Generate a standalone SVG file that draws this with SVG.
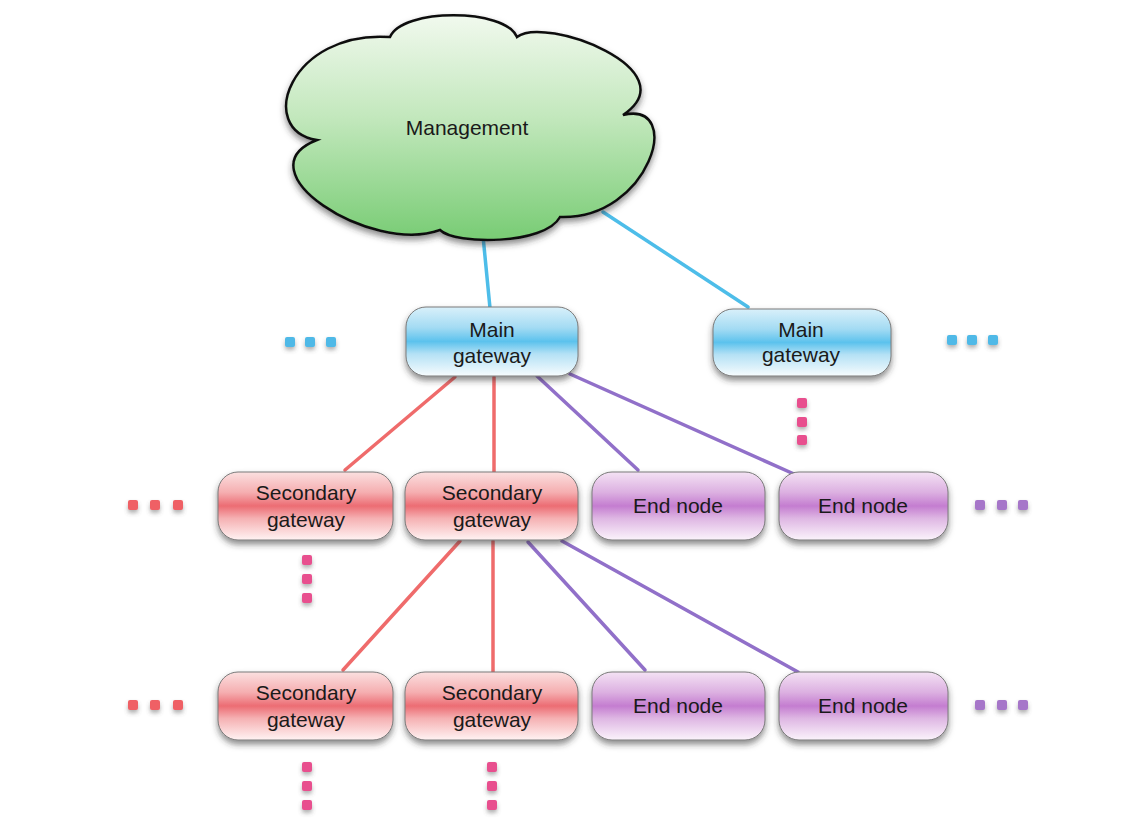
<svg xmlns="http://www.w3.org/2000/svg" width="1143" height="825" viewBox="0 0 1143 825">
<defs>
  <linearGradient id="gCloud" x1="0" y1="0" x2="0" y2="1">
    <stop offset="0" stop-color="#f1f9ee"/>
    <stop offset="0.45" stop-color="#c3e8bd"/>
    <stop offset="1" stop-color="#78cc74"/>
  </linearGradient>
  <linearGradient id="gBlue" x1="0" y1="0" x2="0" y2="1">
    <stop offset="0" stop-color="#d9f0fa"/>
    <stop offset="0.3" stop-color="#a3dbf3"/>
    <stop offset="0.5" stop-color="#5cc2ed"/>
    <stop offset="0.68" stop-color="#b4e1f5"/>
    <stop offset="1" stop-color="#f7fcfe"/>
  </linearGradient>
  <linearGradient id="gRed" x1="0" y1="0" x2="0" y2="1">
    <stop offset="0" stop-color="#fbe0e0"/>
    <stop offset="0.3" stop-color="#f5aeb0"/>
    <stop offset="0.5" stop-color="#ec6c73"/>
    <stop offset="0.68" stop-color="#f5b0b2"/>
    <stop offset="1" stop-color="#fff3f3"/>
  </linearGradient>
  <linearGradient id="gPurple" x1="0" y1="0" x2="0" y2="1">
    <stop offset="0" stop-color="#f4e2f4"/>
    <stop offset="0.3" stop-color="#dcb0e1"/>
    <stop offset="0.5" stop-color="#c47dd0"/>
    <stop offset="0.68" stop-color="#deb6e3"/>
    <stop offset="1" stop-color="#fbf3fb"/>
  </linearGradient>
  <filter id="shadow" x="-20%" y="-20%" width="140%" height="160%">
    <feDropShadow dx="0" dy="4" stdDeviation="3" flood-color="#333" flood-opacity="0.55"/>
  </filter>
  <filter id="dotShadow" x="-50%" y="-50%" width="200%" height="250%">
    <feDropShadow dx="0" dy="3" stdDeviation="2" flood-color="#555" flood-opacity="0.45"/>
  </filter>
</defs>
<style>
  .lbl { font-family: "Liberation Sans", Arial, Helvetica, sans-serif; font-size: 21px; fill: #1a1a1a; text-anchor: middle; }
  .node { stroke: #7a7a7a; stroke-width: 1; filter: url(#shadow); }
  .blueN { fill: url(#gBlue); }
  .redN { fill: url(#gRed); }
  .purN { fill: url(#gPurple); }
  .cb { stroke: #4dbde9; stroke-width: 3.5; fill: none; stroke-linecap: round; }
  .cr { stroke: #ef6b6b; stroke-width: 3.5; fill: none; stroke-linecap: round; }
  .cp { stroke: #9170c9; stroke-width: 3.5; fill: none; stroke-linecap: round; }
  .dot { filter: url(#dotShadow); }
  .dB { fill: #4fb9e7; }
  .dR { fill: #ef6165; }
  .dP { fill: #a676c9; }
  .dV { fill: #e8508e; }
</style>

<g id="connectors">
  <line class="cb" x1="483" y1="236" x2="490" y2="308"/>
  <line class="cb" x1="603" y1="212" x2="748" y2="307"/>
  <line class="cr" x1="455" y1="377" x2="345" y2="470"/>
  <line class="cr" x1="494" y1="377" x2="494" y2="472"/>
  <line class="cp" x1="537" y1="376" x2="638" y2="470"/>
  <line class="cp" x1="570" y1="374" x2="794" y2="474"/>
  <line class="cr" x1="460" y1="541" x2="343" y2="670"/>
  <line class="cr" x1="493" y1="541" x2="493" y2="672"/>
  <line class="cp" x1="528" y1="542" x2="645" y2="670"/>
  <line class="cp" x1="562" y1="541" x2="798" y2="672"/>
</g>

<g id="management">
  <path d="M317,140 C255,130 290,30 390,37 C402,8 505,8 517,37 C545,15 690,70 623,115 C685,100 650,220 560,217 C545,245 455,245 440,230 C370,255 240,170 317,140 Z" fill="url(#gCloud)" stroke="#111" stroke-width="2.5" filter="url(#shadow)"/>
  <text class="lbl" x="467" y="135">Management</text>
</g>

<g id="main-gateway-1">
  <rect class="node blueN" x="406" y="307" width="172" height="69" rx="20"/>
  <text class="lbl" x="492" y="337">Main</text>
  <text class="lbl" x="492" y="363">gateway</text>
</g>
<g id="main-gateway-2">
  <rect class="node blueN" x="713" y="309" width="178" height="67" rx="20"/>
  <text class="lbl" x="801" y="337">Main</text>
  <text class="lbl" x="801" y="362">gateway</text>
</g>

<g id="secondary-gateway-1">
  <rect class="node redN" x="218" y="472" width="175" height="68" rx="20"/>
  <text class="lbl" x="306" y="500">Secondary</text>
  <text class="lbl" x="306" y="527">gateway</text>
</g>
<g id="secondary-gateway-2">
  <rect class="node redN" x="405" y="472" width="173" height="68" rx="20"/>
  <text class="lbl" x="492" y="500">Secondary</text>
  <text class="lbl" x="492" y="527">gateway</text>
</g>
<g id="end-node-1">
  <rect class="node purN" x="592" y="472" width="173" height="68" rx="20"/>
  <text class="lbl" x="678" y="513">End node</text>
</g>
<g id="end-node-2">
  <rect class="node purN" x="779" y="472" width="169" height="68" rx="20"/>
  <text class="lbl" x="863" y="513">End node</text>
</g>

<g id="secondary-gateway-3">
  <rect class="node redN" x="218" y="672" width="175" height="68" rx="20"/>
  <text class="lbl" x="306" y="700">Secondary</text>
  <text class="lbl" x="306" y="727">gateway</text>
</g>
<g id="secondary-gateway-4">
  <rect class="node redN" x="405" y="672" width="173" height="68" rx="20"/>
  <text class="lbl" x="492" y="700">Secondary</text>
  <text class="lbl" x="492" y="727">gateway</text>
</g>
<g id="end-node-3">
  <rect class="node purN" x="592" y="672" width="173" height="68" rx="20"/>
  <text class="lbl" x="678" y="713">End node</text>
</g>
<g id="end-node-4">
  <rect class="node purN" x="779" y="672" width="169" height="68" rx="20"/>
  <text class="lbl" x="863" y="713">End node</text>
</g>

<g id="ellipses">
  <g class="dot dB">
    <rect x="285" y="337" width="10" height="10" rx="2"/>
    <rect x="305" y="337" width="10" height="10" rx="2"/>
    <rect x="326" y="337" width="10" height="10" rx="2"/>
    <rect x="947" y="335" width="10" height="10" rx="2"/>
    <rect x="967" y="335" width="10" height="10" rx="2"/>
    <rect x="988" y="335" width="10" height="10" rx="2"/>
  </g>
  <g class="dot dR">
    <rect x="128" y="500" width="10" height="10" rx="2"/>
    <rect x="150" y="500" width="10" height="10" rx="2"/>
    <rect x="173" y="500" width="10" height="10" rx="2"/>
    <rect x="128" y="700" width="10" height="10" rx="2"/>
    <rect x="150" y="700" width="10" height="10" rx="2"/>
    <rect x="173" y="700" width="10" height="10" rx="2"/>
  </g>
  <g class="dot dP">
    <rect x="975" y="500" width="10" height="10" rx="2"/>
    <rect x="997" y="500" width="10" height="10" rx="2"/>
    <rect x="1018" y="500" width="10" height="10" rx="2"/>
    <rect x="975" y="700" width="10" height="10" rx="2"/>
    <rect x="997" y="700" width="10" height="10" rx="2"/>
    <rect x="1018" y="700" width="10" height="10" rx="2"/>
  </g>
  <g class="dot dV">
    <rect x="797" y="398" width="10" height="10" rx="2"/>
    <rect x="797" y="417" width="10" height="10" rx="2"/>
    <rect x="797" y="435" width="10" height="10" rx="2"/>
    <rect x="302" y="555" width="10" height="10" rx="2"/>
    <rect x="302" y="574" width="10" height="10" rx="2"/>
    <rect x="302" y="593" width="10" height="10" rx="2"/>
    <rect x="302" y="762" width="10" height="10" rx="2"/>
    <rect x="302" y="781" width="10" height="10" rx="2"/>
    <rect x="302" y="800" width="10" height="10" rx="2"/>
    <rect x="487" y="762" width="10" height="10" rx="2"/>
    <rect x="487" y="781" width="10" height="10" rx="2"/>
    <rect x="487" y="800" width="10" height="10" rx="2"/>
  </g>
</g>
</svg>
